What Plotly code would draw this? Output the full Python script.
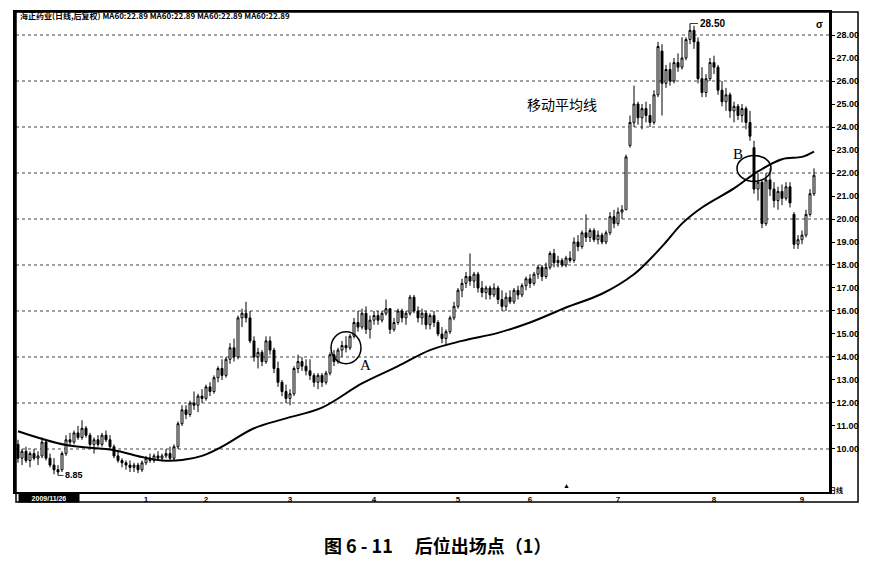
import plotly.graph_objects as go

# daily bars, Nov 2009 - Sep 2010
days = list(range(200))

opens = [
    10.2, 9.6, 9.9, 9.5, 9.8, 9.6, 9.7, 10.3, 9.6, 9.3,
    9.1, 9.1, 9.8, 10.4, 10.3, 10.7, 10.5, 10.9, 10.6, 10.2,
    10.4, 10.2, 10.6, 10.4, 10.1, 9.7, 9.5, 9.4, 9.3, 9.2,
    9.3, 9.1, 9.4, 9.6, 9.5, 9.7, 9.6, 9.7, 9.8, 9.6,
    10.1, 11.1, 11.7, 11.5, 12.0, 11.9, 12.3, 12.2, 12.7, 12.5,
    13.1, 13.5, 13.2, 13.9, 14.4, 14.0, 15.7, 15.9, 15.7, 14.7,
    14.0, 14.2, 13.8, 14.7, 14.3, 13.5, 12.9, 12.5, 12.2, 12.4,
    13.5, 13.8, 13.6, 13.4, 13.2, 12.9, 13.2, 12.9, 13.3, 14.1,
    13.8, 14.3, 14.5, 14.4, 14.9, 15.5, 15.3, 15.9, 15.2, 15.6,
    15.8, 15.6, 15.9, 16.1, 15.2, 15.5, 16.0, 15.7, 15.9, 16.6,
    16.0, 15.7, 15.9, 15.4, 15.8, 15.5, 15.0, 14.8, 15.1, 15.7,
    16.2, 16.9, 17.2, 17.5, 17.3, 17.6, 17.0, 16.8, 17.0, 16.7,
    17.0, 16.5, 16.2, 16.6, 16.4, 16.9, 16.7, 17.1, 17.4, 17.2,
    17.6, 17.9, 17.5, 17.9, 18.5, 18.1, 18.2, 18.0, 18.3, 18.2,
    19.0, 18.8, 19.4, 19.2, 19.5, 19.1, 19.3, 19.0, 19.4, 20.1,
    19.8, 20.3, 20.4, 23.2, 24.2, 25.0, 24.4, 24.8, 24.5, 24.2,
    25.4, 27.3, 25.9, 26.5, 26.0, 26.8, 26.6, 27.0, 27.8, 28.2,
    27.7, 26.1, 25.5, 26.1, 26.8, 26.6, 25.6, 25.1, 25.4, 24.7,
    24.9, 24.5, 24.8, 24.2, 23.1, 21.3, 21.6, 19.8, 21.7, 21.3,
    20.8, 21.2, 20.9, 21.4, 20.2, 18.9, 19.1, 19.3, 20.2, 21.1,
]
highs = [
    10.4, 10.0, 10.1, 9.9, 10.0, 9.9, 10.5, 10.4, 9.8, 9.6,
    9.3, 9.9, 10.6, 10.7, 10.8, 11.0, 11.25, 11.0, 10.7, 10.5,
    10.6, 10.7, 10.8, 10.6, 10.2, 9.9, 9.6, 9.5, 9.5, 9.4,
    9.4, 9.5, 9.7, 9.8, 9.8, 9.9, 9.8, 10.0, 10.1, 10.2,
    11.2, 11.9, 11.9, 12.1, 12.5, 12.4, 12.6, 12.8, 12.9, 13.2,
    13.6, 13.9, 14.0, 14.6, 14.8, 15.8, 16.1, 16.4, 16.0, 14.9,
    14.4, 14.3, 14.9, 14.9, 14.4, 13.8, 13.0, 12.8, 12.6, 13.6,
    14.1, 14.0, 13.9, 13.9, 13.3, 13.3, 13.3, 13.4, 14.2, 14.3,
    14.4, 14.7, 14.9, 15.0, 15.7, 16.0, 16.1, 16.2, 15.8, 16.0,
    16.0, 16.0, 16.5, 16.1, 15.7, 16.1, 16.1, 16.0, 16.7, 16.7,
    16.2, 16.1, 16.0, 15.9, 16.0, 15.6, 15.3, 15.2, 15.8, 16.4,
    17.0, 17.4, 17.7, 18.5, 17.7, 17.7, 17.3, 17.1, 17.1, 17.2,
    17.1, 16.9, 16.8, 16.9, 17.0, 17.1, 17.2, 17.5, 17.6, 17.7,
    18.0, 18.0, 18.1, 18.6, 18.7, 18.4, 18.3, 18.4, 18.6, 19.2,
    19.3, 19.5, 20.2, 19.6, 19.6, 19.5, 19.4, 19.5, 20.3, 20.4,
    20.5, 20.6, 22.8, 24.5, 25.8, 25.1, 25.0, 25.1, 25.0, 25.6,
    27.7, 27.6, 26.7, 26.8, 27.0, 27.2, 27.9, 27.9, 28.5, 28.4,
    27.9, 26.6, 26.3, 27.0, 27.1, 26.7, 26.0, 25.7, 25.5, 25.1,
    25.0, 25.0, 24.9, 24.7, 23.4, 22.0, 21.7, 22.0, 22.2, 21.6,
    21.4, 21.5, 21.6, 21.6, 20.3, 19.3, 19.5, 20.4, 21.3, 22.2,
]
lows = [
    9.4, 9.3, 9.4, 9.2, 9.5, 9.3, 9.6, 9.5, 9.2, 8.9,
    8.85, 9.0, 9.7, 10.1, 10.2, 10.4, 10.4, 10.5, 10.1, 9.8,
    10.1, 10.1, 10.3, 10.0, 9.6, 9.4, 9.2, 9.1, 9.0, 9.0,
    8.95, 9.0, 9.3, 9.4, 9.4, 9.5, 9.5, 9.6, 9.5, 9.5,
    10.0, 11.0, 11.3, 11.4, 11.7, 11.6, 12.0, 12.1, 12.3, 12.4,
    12.9, 13.0, 13.1, 13.7, 13.8, 13.9, 15.3, 15.5, 14.6, 13.8,
    13.5, 13.6, 13.7, 14.1, 13.3, 12.7, 12.3, 12.0, 11.9, 12.3,
    13.3, 13.4, 13.2, 13.0, 12.7, 12.6, 12.7, 12.8, 13.2, 13.6,
    13.7, 14.0, 14.2, 14.3, 14.8, 15.1, 15.2, 15.0, 14.8, 15.4,
    15.4, 15.5, 15.8, 15.0, 15.1, 15.4, 15.5, 15.4, 15.8, 15.9,
    15.5, 15.4, 15.2, 15.2, 15.3, 14.9, 14.6, 14.5, 15.0, 15.6,
    16.1, 16.6, 17.0, 17.1, 17.0, 16.8, 16.6, 16.5, 16.5, 16.6,
    16.3, 16.0, 16.0, 16.3, 16.3, 16.5, 16.6, 16.9, 17.0, 17.1,
    17.4, 17.3, 17.4, 17.8, 17.9, 17.9, 17.9, 17.9, 18.1, 18.1,
    18.6, 18.7, 19.0, 19.0, 19.0, 18.9, 18.9, 18.9, 19.3, 19.6,
    19.7, 20.0, 20.4, 23.1, 24.0, 24.1, 23.9, 24.2, 24.0, 24.1,
    25.3, 24.5, 25.7, 25.8, 25.9, 26.4, 26.5, 26.9, 27.6, 27.4,
    25.9, 25.3, 25.3, 26.0, 26.3, 25.4, 24.9, 24.7, 24.4, 24.2,
    24.3, 24.2, 23.9, 23.4, 21.1, 20.8, 19.6, 19.7, 21.0, 20.5,
    20.4, 20.6, 20.8, 20.5, 18.7, 18.7, 18.9, 19.2, 20.1, 21.0,
]
closes = [
    9.6, 9.9, 9.5, 9.8, 9.6, 9.7, 10.3, 9.6, 9.3, 9.1,
    9.0, 9.8, 10.4, 10.3, 10.7, 10.5, 10.9, 10.6, 10.2, 10.4,
    10.2, 10.6, 10.4, 10.1, 9.7, 9.5, 9.4, 9.3, 9.2, 9.3,
    9.1, 9.4, 9.6, 9.5, 9.7, 9.6, 9.7, 9.8, 9.6, 10.1,
    11.1, 11.7, 11.5, 12.0, 11.9, 12.3, 12.2, 12.7, 12.5, 13.1,
    13.5, 13.2, 13.9, 14.4, 14.0, 15.7, 15.9, 15.7, 14.7, 14.0,
    14.2, 13.8, 14.7, 14.3, 13.5, 12.9, 12.5, 12.2, 12.4, 13.5,
    13.8, 13.6, 13.4, 13.2, 12.9, 13.2, 12.9, 13.3, 14.1, 13.8,
    14.3, 14.5, 14.4, 14.9, 15.5, 15.3, 15.9, 15.2, 15.6, 15.8,
    15.6, 15.9, 16.1, 15.2, 15.5, 16.0, 15.7, 15.9, 16.6, 16.0,
    15.7, 15.9, 15.4, 15.8, 15.5, 15.0, 14.8, 15.1, 15.7, 16.2,
    16.9, 17.2, 17.5, 17.3, 17.6, 17.0, 16.8, 17.0, 16.7, 17.0,
    16.5, 16.2, 16.6, 16.4, 16.9, 16.7, 17.1, 17.4, 17.2, 17.6,
    17.9, 17.5, 17.9, 18.5, 18.1, 18.2, 18.0, 18.3, 18.2, 19.0,
    18.8, 19.4, 19.2, 19.5, 19.1, 19.3, 19.0, 19.4, 20.1, 19.8,
    20.3, 20.4, 22.7, 24.2, 25.0, 24.4, 24.8, 24.5, 24.2, 25.4,
    27.5, 25.9, 26.5, 26.0, 26.8, 26.6, 27.0, 27.8, 28.2, 27.7,
    26.1, 25.5, 26.1, 26.8, 26.6, 25.6, 25.1, 25.4, 24.7, 24.9,
    24.5, 24.8, 24.2, 23.6, 21.3, 21.6, 19.8, 21.7, 21.3, 20.8,
    21.2, 20.9, 21.4, 20.7, 18.9, 19.1, 19.3, 20.2, 21.1, 21.9,
]

# 60-day moving average, sampled along the curve
ma_days = [0, 12, 24, 31, 36, 41, 46, 51, 59, 67, 76, 86, 95, 103, 111,
           120, 128, 137, 146, 154, 158, 162, 166, 171, 179, 185, 191, 196, 199]
ma_values = [10.77, 10.17, 9.95, 9.65, 9.5, 9.52, 9.7, 10.1, 10.9, 11.33, 11.8,
             12.85, 13.6, 14.3, 14.7, 15.05, 15.5, 16.15, 16.75, 17.6, 18.25,
             19.0, 19.8, 20.5, 21.33, 22.07, 22.6, 22.7, 22.93]

price_ticks = list(range(10, 29))
grid_levels = list(range(10, 29, 2))
start_label = "2009/11/26"
month_days = [32, 47, 68, 89, 110, 128, 150, 174, 196]
month_labels = ["1", "2", "3", "4", "5", "6", "7", "8", "9"]

point_a = 82   # first buy point, circled "A"
point_b = 184  # exit where price breaks the MA, circled "B"
low_day = 10
high_day = 168

CJK = "Noto Sans CJK SC"

fig = go.Figure()

fig.add_trace(go.Candlestick(
    x=days, open=opens, high=highs, low=lows, close=closes,
    increasing=dict(line=dict(color="black", width=1), fillcolor="white"),
    decreasing=dict(line=dict(color="black", width=1), fillcolor="black"),
    whiskerwidth=0, showlegend=False, hoverinfo="skip",
))

fig.add_trace(go.Scatter(
    x=ma_days, y=ma_values, mode="lines", line=dict(color="black", width=2, shape="spline"),
    showlegend=False, hoverinfo="skip",
))

for lvl in grid_levels:
    fig.add_hline(y=lvl, line=dict(color="#444", width=1, dash="dot"), layer="below")

# circles around A and B
fig.add_shape(type="circle", xref="x", yref="y", xsizemode="pixel", ysizemode="pixel",
              xanchor=point_a, yanchor=closes[point_a], x0=-15, x1=15, y0=-16, y1=16,
              line=dict(color="black", width=1.5))
fig.add_shape(type="circle", xref="x", yref="y", xsizemode="pixel", ysizemode="pixel",
              xanchor=point_b, yanchor=(opens[point_b] + closes[point_b]) / 2,
              x0=-17, x1=17, y0=-13, y1=13, line=dict(color="black", width=1.5))

fig.add_annotation(x=point_a, y=closes[point_a], text="A", showarrow=False,
                   xshift=19, yshift=-17, font=dict(family="Liberation Serif", size=15, color="black"))
fig.add_annotation(x=point_b, y=(opens[point_b] + closes[point_b]) / 2, text="B", showarrow=False,
                   xshift=-16, yshift=14, font=dict(family="Liberation Serif", size=15, color="black"))

fig.add_annotation(x=low_day, y=lows[low_day], text="<b>8.85</b>", showarrow=True, arrowhead=0,
                   arrowwidth=1, ax=16, ay=0, font=dict(family="Liberation Sans", size=9, color="black"))
fig.add_annotation(x=high_day, y=highs[high_day], text="<b>28.50</b>", showarrow=True, arrowhead=0,
                   arrowwidth=1, ax=22, ay=0, font=dict(family="Liberation Sans", size=10, color="black"))

fig.add_annotation(x=136, y=25.0, text="移动平均线", showarrow=False,
                   font=dict(family=CJK, size=14, color="black"))

# header line and small marks
fig.add_annotation(xref="paper", yref="paper", x=0.003, y=0.992, xanchor="left", yanchor="middle",
                   text="<b>海正药业(日线,后复权) MA60:22.89 MA60:22.89 MA60:22.89 MA60:22.89</b>",
                   showarrow=False, font=dict(family=CJK, size=8, color="black"))
fig.add_annotation(xref="paper", yref="paper", x=0.995, y=0.99, text="<b>σ</b>", showarrow=False,
                   font=dict(family="Liberation Sans", size=10, color="black"))
fig.add_annotation(x=137, yref="paper", y=0.0, yanchor="bottom", text="▲", showarrow=False,
                   font=dict(size=7, color="black"))

# bottom date strip and right price panel frame
fig.add_shape(type="rect", xref="paper", yref="paper", x0=0, x1=1.0357, y0=-0.0207, y1=1,
              line=dict(color="black", width=1.5))
fig.add_annotation(xref="paper", yref="paper", x=0.002, y=-0.0015, xanchor="left", yanchor="top",
                   text="<b>%s</b>" % start_label, showarrow=False,
                   bgcolor="black", width=60, height=8, borderpad=0,
                   font=dict(family="Liberation Sans", size=7, color="white"))
fig.add_annotation(xref="paper", yref="paper", x=1.0197, y=-0.0104, text="<b>日线</b>", showarrow=False,
                   font=dict(family=CJK, size=7, color="black"))

# caption
fig.add_annotation(xref="paper", yref="paper", x=0.519, y=-0.11, yanchor="middle",
                   text="<b>图 6 - 11 　后位出场点（1）</b>", showarrow=False,
                   font=dict(family=CJK, size=18, color="black"))

# the page body adds an 8px margin, so the figure is 8px smaller than the window
fig.update_layout(
    width=872, height=554,
    margin=dict(l=8, r=51, t=2, b=70),
    paper_bgcolor="white", plot_bgcolor="white",
    xaxis=dict(
        range=[-0.5, 202.75], rangeslider=dict(visible=False),
        tickmode="array", tickvals=month_days, ticktext=["<b>%s</b>" % m for m in month_labels],
        tickfont=dict(family="Liberation Sans", size=8, color="black"),
        ticks="", ticklabelstandoff=-2,
        showgrid=False, zeroline=False,
        showline=True, linecolor="black", linewidth=2, mirror=True,
    ),
    yaxis=dict(
        side="right", range=[8.13, 29.0],
        tickmode="array", tickvals=price_ticks,
        ticktext=["<b>%.2f</b>" % v for v in price_ticks],
        tickfont=dict(family="Liberation Sans", size=9, color="black"),
        ticks="outside", ticklen=3, tickcolor="black",
        showgrid=False, zeroline=False,
        showline=True, linecolor="black", linewidth=2.5, mirror=True,
    ),
)

fig.write_html("out.html")
